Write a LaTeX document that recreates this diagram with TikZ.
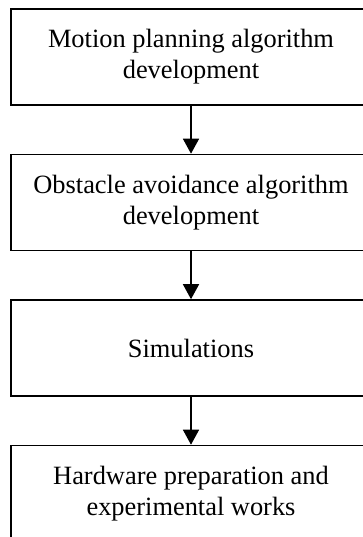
\documentclass[tikz,border=0pt]{standalone}
\usepackage{fontspec}
\setmainfont{Liberation Serif}
\usetikzlibrary{arrows.meta}
\begin{document}
\begin{tikzpicture}[x=1pt,y=-1pt,
  stepbox/.style={draw,line width=1.6pt,minimum width=360pt,minimum height=96pt,align=center,font=\fontsize{26.4}{31}\selectfont,inner sep=0pt},
  flow/.style={line width=1.5pt,-{Triangle[width=16pt,length=15pt]}}]
\useasboundingbox[fill=white] (0,0) rectangle (362,537);
\node[stepbox] (a) at (191,57) {Motion planning algorithm\\development};
\node[stepbox] (b) at (191,202.5) {Obstacle avoidance algorithm\\development};
\node[stepbox] (c) at (191,348) {Simulations};
\node[stepbox] (d) at (191,493.5) {Hardware preparation and\\experimental works};
\draw[flow] (a) -- (b);
\draw[flow] (b) -- (c);
\draw[flow] (c) -- (d);
\end{tikzpicture}
\end{document}
